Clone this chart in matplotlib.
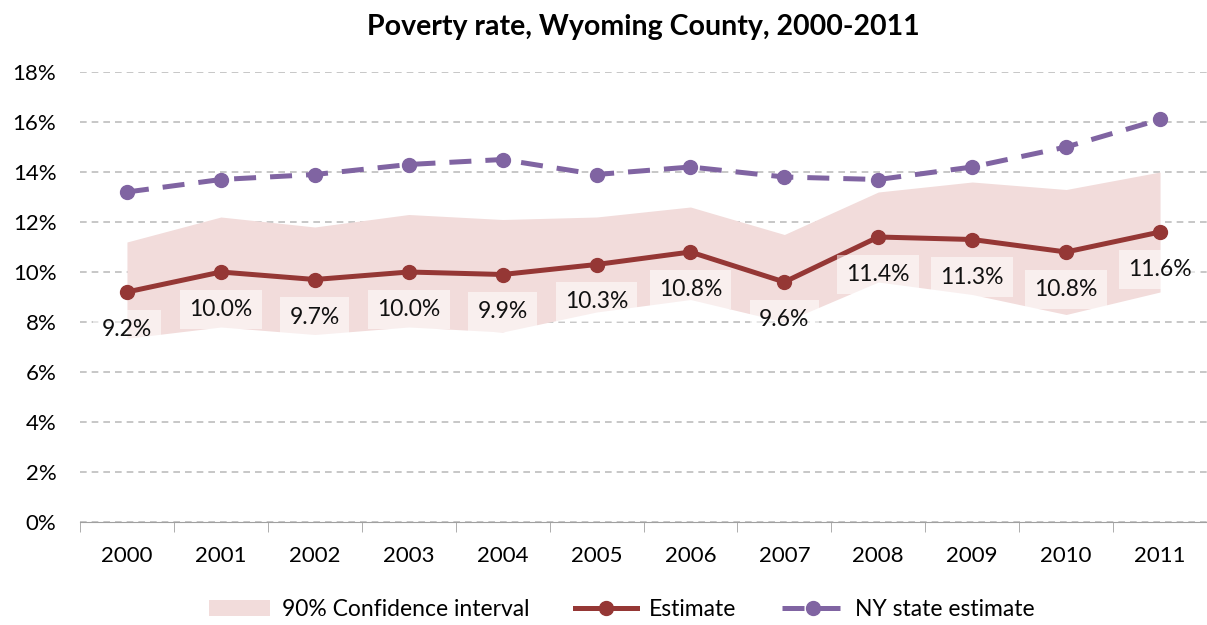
import numpy as np
import matplotlib.pyplot as plt

plt.rcParams['font.family'] = ['Lato', 'DejaVu Sans']

years = ['2000', '2001', '2002', '2003', '2004', '2005',
         '2006', '2007', '2008', '2009', '2010', '2011']
estimate = [9.2, 10.0, 9.7, 10.0, 9.9, 10.3, 10.8, 9.6, 11.4, 11.3, 10.8, 11.6]
ci_upper = [11.2, 12.2, 11.8, 12.3, 12.1, 12.2, 12.6, 11.5, 13.2, 13.6, 13.3, 14.0]
ci_lower = [7.35, 7.8, 7.5, 7.8, 7.6, 8.4, 8.9, 8.0, 9.6, 9.1, 8.3, 9.2]
ny_state = [13.2, 13.7, 13.9, 14.3, 14.5, 13.9, 14.2, 13.8, 13.7, 14.2, 15.0, 16.1]

est_color = '#953735'
ny_color = '#8064A2'
band_color = '#F2DCDB'

fig = plt.figure(figsize=(12.07, 6.25), dpi=100)
ax = fig.add_axes([80 / 1207, 1 - 522 / 625, 1127 / 1207, 450 / 625])

x = np.arange(len(years))
ax.fill_between(x, ci_lower, ci_upper, color=band_color, lw=0,
                label='90% Confidence interval', zorder=1)
ax.plot(x, estimate, color=est_color, lw=3.6, marker='o', ms=10,
        label='Estimate', zorder=3)
ax.plot(x, ny_state, color=ny_color, lw=3.6, ls=(0, (4.4, 2.8)), marker='o', ms=10,
        label='NY state estimate', zorder=3)

for xi, v in zip(x, estimate):
    ax.annotate(f'{v:.1f}%', (xi, v), xytext=(0, -27), textcoords='offset points',
                ha='center', va='center', fontsize=16.5, color='#111111', zorder=4,
                bbox=dict(boxstyle='square,pad=0.4', fc='white', ec='none', alpha=0.55))

ax.set_xlim(-0.5, len(years) - 0.5)
ax.set_ylim(0, 18)
ax.set_yticks(np.arange(0, 19, 2))
ax.set_yticklabels([f'{v}%' for v in range(0, 19, 2)])
ax.set_xticks(x)
ax.set_xticklabels(years)
ax.set_xticks(np.arange(-0.5, len(years), 1), minor=True)
ax.tick_params(axis='x', which='major', length=0, pad=17, labelsize=16)
ax.tick_params(axis='x', which='minor', length=7, color='#A0A0A0')
ax.tick_params(axis='y', length=0, pad=17, labelsize=16)
ax.yaxis.grid(True, color='#BDBDBD', ls=(0, (4, 3)), lw=1.2)
ax.set_axisbelow(True)
for s in ['top', 'right', 'left']:
    ax.spines[s].set_visible(False)
ax.spines['bottom'].set_color('#A0A0A0')

ax.set_title('Poverty rate, Wyoming County, 2000-2011', fontsize=20.5,
             fontweight='bold', pad=27)

handles, labels = ax.get_legend_handles_labels()
fig.legend(handles, labels,
           loc='lower center', bbox_to_anchor=(0.515, -0.025), ncol=3,
           frameon=False, fontsize=16.5, handlelength=2.7, columnspacing=2.0,
           handletextpad=0.5)

fig.savefig('out.png', dpi=100)
